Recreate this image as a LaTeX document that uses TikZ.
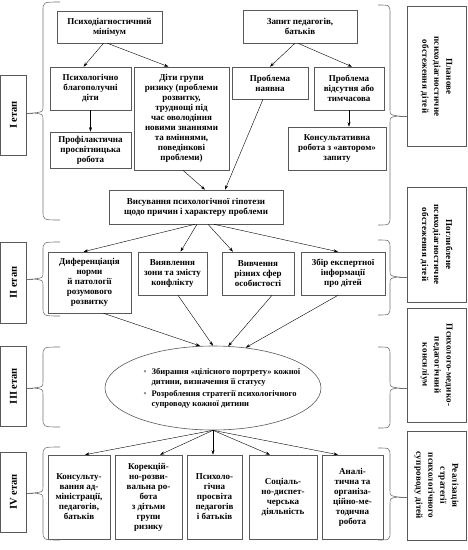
\documentclass[tikz,border=0pt]{standalone}
\usepackage{fontspec}
\setmainfont{Liberation Serif}
\usetikzlibrary{arrows.meta, calc, shapes.geometric}

\newcommand{\bul}{\makebox[8pt][l]{\textcolor{black!45}{\textbullet}}}
\newcommand{\ind}{\makebox[8pt]{}}

\begin{document}
\begin{tikzpicture}[x=1pt, y=-1pt,
  blk/.style={draw=black!65, line width=0.6pt, align=center, inner sep=1pt,
    font=\bfseries\fontsize{9}{10}\selectfont},
  lab/.style={draw=black!65, line width=0.6pt, align=center, inner sep=1pt,
    font=\bfseries\fontsize{9}{12}\selectfont\addfontfeature{LetterSpace=3}},
  stg/.style={draw=black!65, line width=0.6pt, rotate=90, minimum height=26pt,
    font=\bfseries\fontsize{10.5}{12}\selectfont},
  arr/.style={-{Stealth[length=4.5pt,width=3pt]}, line width=0.4pt},
  brc/.style={draw=black!55, line width=0.6pt}]
  \useasboundingbox (0,0) rectangle (468,550);

  % stage I
  \node[blk, minimum width=105pt, minimum height=32pt] (mnm) at (109.5,27) {Психодіагностичний\\мінімум};
  \node[blk, minimum width=81pt, minimum height=43pt] (blago) at (90.5,88.5) {Психологічно\\благополучні\\діти};
  \node[blk, minimum width=95pt, minimum height=103pt] (ryzyk) at (181.5,118.5) {Діти групи\\ризику (проблеми\\розвитку,\\труднощі під\\час оволодіння\\новими знаннями\\та вміннями,\\поведінкові\\проблеми)};
  \node[blk, minimum width=81pt, minimum height=36pt] (prof) at (90.5,150) {Профілактична\\просвітницька\\робота};
  \node[blk, minimum width=114pt, minimum height=33pt] (zapyt) at (300,26.5) {Запит педагогів,\\батьків};
  \node[blk, minimum width=76pt, minimum height=32pt] (nayavna) at (270,83) {Проблема\\наявна};
  \node[blk, minimum width=70pt, minimum height=43pt] (vidsut) at (349,88.5) {Проблема\\відсутня або\\тимчасова};
  \node[blk, minimum width=98pt, minimum height=43pt] (kons) at (337,148.5) {Консультативна\\робота з «автором»\\запиту};
  \node[blk, minimum width=174pt, minimum height=34pt] (vysuv) at (196,207) {Висування психологічної гіпотези\\щодо причин і характеру проблеми};

  % stage II
  \node[blk, minimum width=83pt, minimum height=61pt] (dyfer) at (89.5,282.5) {Диференціація\\норми\\й патології\\розумового\\розвитку};
  \node[blk, minimum width=69pt, minimum height=43pt] (vyyav) at (172.5,273.5) {Виявлення\\зони та змісту\\конфлікту};
  \node[blk, minimum width=72pt, minimum height=43pt] (vyvch) at (258,273.5) {Вивчення\\різних сфер\\особистості};
  \node[blk, minimum width=84pt, minimum height=43pt] (zbir) at (343,273.5) {Збір експертної\\інформації\\про дітей};

  % stage III
  \node[ellipse, draw=black!65, line width=0.6pt, minimum width=216pt, minimum height=84pt, inner sep=0pt] (ell) at (213,388) {};
  \node[align=left, inner sep=0pt, font=\bfseries\fontsize{8.5}{10}\selectfont] (elltxt) at ([xshift=9pt]ell.center)
    {\bul Збирання «цілісного портрету» кожної\\\ind дитини, визначення її статусу\\[2pt]\bul Розроблення стратегії психологічного\\\ind супроводу кожної дитини};

  % stage IV
  \node[blk, minimum width=62pt, minimum height=84pt] (k1) at (79,497) {Консульту-\\вання ад-\\міністрації,\\педагогів,\\батьків};
  \node[blk, minimum width=67pt, minimum height=84pt] (k2) at (148.5,497) {Корекцій-\\но-розви-\\вальна ро-\\бота\\з дітьми\\групи\\ризику};
  \node[blk, minimum width=55pt, minimum height=84pt] (k3) at (214.5,497) {Психоло-\\гічна\\просвіта\\педагогів\\і батьків};
  \node[blk, minimum width=68pt, minimum height=84pt] (k4) at (283,497) {Соціаль-\\но-диспет-\\черська\\діяльність};
  \node[blk, minimum width=61pt, minimum height=84pt] (k5) at (352.5,497) {Аналі-\\тична та\\організа-\\ційно-ме-\\тодична\\робота};

  % stage labels
  \node[stg, minimum width=80pt] (st1) at (13.5,115) {I етап};
  \node[stg, minimum width=81pt] (st2) at (13.5,282.5) {II етап};
  \node[stg, minimum width=80pt] (st3) at (13.5,386) {III етап};
  \node[stg, minimum width=80pt] (st4) at (13.5,492) {IV етап};

  \node[lab, rotate=-90, minimum width=140pt, minimum height=59pt] (pl1) at (436.5,76.5) {Планове\\психодіагностичне\\обстеження дітей};
  \node[lab, rotate=-90, minimum width=115pt, minimum height=59pt] (pl2) at (436.5,244.5) {Поглиблене\\психодіагностичне\\обстеження дітей};
  \node[lab, rotate=-90, minimum width=114pt, minimum height=59pt] (pl3) at (436.5,365) {Психолого-медико-\\педагогічний\\консиліум};
  \node[lab, rotate=-90, minimum width=109pt, minimum height=59pt] (pl4) at (436.5,485.5) {Реалізація\\стратегії\\психологічного\\супроводу дітей};

  % braces
  \foreach \t/\b/\m/\i in {2/220/113/1, 242/316/279/2, 347/427/388/3, 447/540/493/4}{
    \draw[brc] (60,\t) .. controls (43,\t) .. (43,\t+9) -- (43,\m-7)
      .. controls (43,\m-1) .. (33,\m) .. controls (43,\m+1) .. (43,\m+7)
      -- (43,\b-9) .. controls (43,\b) .. (60,\b);
    \coordinate (lt\i) at (33,\m);
  }
  \foreach \t/\b/\m/\i in {5/225/116/1, 240/315/277/2, 347/428/388/3, 448/540/497/4}{
    \draw[brc] (378,\t) .. controls (390,\t) .. (390,\t+9) -- (390,\m-7)
      .. controls (390,\m-1) .. (399,\m) .. controls (390,\m+1) .. (390,\m+7)
      -- (390,\b-9) .. controls (390,\b) .. (378,\b);
    \coordinate (rt\i) at (399,\m);
  }
  \draw[brc] (st1.south |- lt1) -- (lt1);
  \draw[brc] (st2.south |- lt2) -- (lt2);
  \draw[brc] (st3.south |- lt3) -- (lt3);
  \draw[brc] (st4.south |- lt4) -- (lt4);
  \draw[brc] (rt1) -- (rt1 -| pl1.south);
  \draw[brc] (rt2) -- (rt2 -| pl2.south);
  \draw[brc] (rt3) -- (rt3 -| pl3.south);
  \draw[brc] (rt4) -- (rt4 -| pl4.south);

  % arrows
  \draw[arr] ([xshift=-6pt]mnm.south) -- ([xshift=-7pt]blago.north);
  \draw[arr] ([xshift=-2pt]mnm.south) -- ([xshift=-13pt]ryzyk.north);
  \draw[arr] (blago) -- (prof);
  \draw[arr] ([xshift=-5pt]zapyt.south) -- (nayavna.north);
  \draw[arr] ([xshift=-2pt]zapyt.south) -- ([xshift=3pt]vidsut.north);
  \draw[arr] (vidsut.south) -- (vidsut.south |- kons.north);
  \draw[arr] ([xshift=-7pt]nayavna.south) -- ([xshift=29pt]vysuv.north);
  \draw[arr] ([xshift=1.5pt]ryzyk.south) -- ([xshift=9pt]vysuv.north);

  \draw[arr] ([xshift=-1pt]vysuv.south) -- ([xshift=-6pt]dyfer.north);
  \draw[arr] ([xshift=1pt]vysuv.south) -- ([xshift=8pt]vyyav.north);
  \draw[arr] ([xshift=12pt]vysuv.south) -- ([xshift=-25pt]vyvch.north);
  \draw[arr] ([xshift=18pt]vysuv.south) -- ([xshift=-5pt]zbir.north);

  \draw[arr] ([xshift=14pt]dyfer.south) -- (ell.107);
  \draw[arr] ([xshift=5.5pt]vyyav.south) -- (ell.north);
  \draw[arr] ([xshift=14pt]vyvch.south) -- (ell.70);
  \draw[arr] ([xshift=-5pt]zbir.south) -- (ell.51);

  \draw[arr] (ell.south) -- ([xshift=6pt]k1.north);
  \draw[arr] (ell.south) -- ([xshift=11.5pt]k2.north);
  \draw[arr] (ell.south) -- (ell.south |- k3.north);
  \draw[arr] (ell.south) -- ([xshift=-13pt]k4.north);
  \draw[arr] (ell.south) -- ([xshift=-14.5pt]k5.north);
\end{tikzpicture}
\end{document}
